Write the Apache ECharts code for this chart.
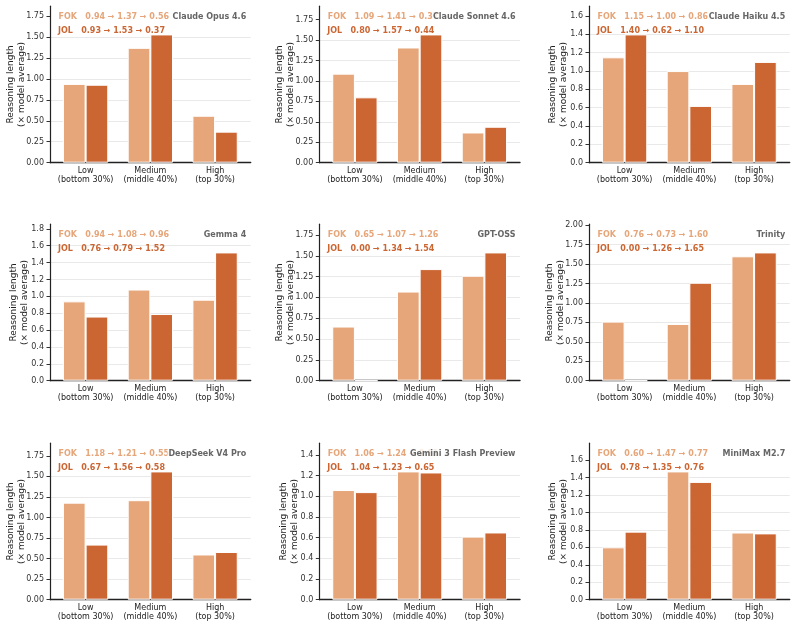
<!DOCTYPE html>
<html>
<head>
<meta charset="utf-8">
<script src="https://cdn.jsdelivr.net/npm/echarts@6/dist/echarts.min.js"></script>
<style>
html,body{margin:0;padding:0;background:#fff;}
#chart{width:796px;height:627px;}
</style>
</head>
<body>
<div id="chart"></div>
<script>
// ---- data ----
const categories = ['Low\n(bottom 30%)', 'Medium\n(middle 40%)', 'High\n(top 30%)'];
const models = ['Claude Opus 4.6', 'Claude Sonnet 4.6', 'Claude Haiku 4.5',
                'Gemma 4', 'GPT-OSS', 'Trinity',
                'DeepSeek V4 Pro', 'Gemini 3 Flash Preview', 'MiniMax M2.7'];
const fokValues = [
  [0.94, 1.37, 0.56],
  [1.09, 1.41, 0.37],
  [1.15, 1.00, 0.86],
  [0.94, 1.08, 0.96],
  [0.65, 1.07, 1.26],
  [0.76, 0.73, 1.60],
  [1.18, 1.21, 0.55],
  [1.06, 1.24, 0.61],
  [0.60, 1.47, 0.77]
];
const jolValues = [
  [0.93, 1.53, 0.37],
  [0.80, 1.57, 0.44],
  [1.40, 0.62, 1.10],
  [0.76, 0.79, 1.52],
  [0.00, 1.34, 1.54],
  [0.00, 1.26, 1.65],
  [0.67, 1.56, 0.58],
  [1.04, 1.23, 0.65],
  [0.78, 1.35, 0.76]
];
// y tick labels per panel
const ticks175 = [0, 0.25, 0.5, 0.75, 1.0, 1.25, 1.5, 1.75];
const ticks200 = [0, 0.25, 0.5, 0.75, 1.0, 1.25, 1.5, 1.75, 2.0];
const ticks16 = [0, 0.2, 0.4, 0.6, 0.8, 1.0, 1.2, 1.4, 1.6];
const ticks18 = [0, 0.2, 0.4, 0.6, 0.8, 1.0, 1.2, 1.4, 1.6, 1.8];
const ticks14 = [0, 0.2, 0.4, 0.6, 0.8, 1.0, 1.2, 1.4];
const yTicks = [ticks175, ticks175, ticks16, ticks18, ticks175, ticks200, ticks175, ticks14, ticks16];

// ---- style ----
const FOK_COLOR = '#E6A67A';
const JOL_COLOR = '#CB6633';
const FONT = '"DejaVu Sans", sans-serif';
const colLeft = [50, 319.3, 589];
const rowBottom = [162.7, 380.7, 599.7];
const plotW = 200.7, plotH = 156.5;

const chart = echarts.init(document.getElementById('chart'), null, {renderer: 'canvas'});
const grid = [], xAxis = [], yAxis = [], series = [], graphic = [];

models.forEach((name, i) => {
  const col = i % 3, row = Math.floor(i / 3);
  const left = colLeft[col], top = rowBottom[row] - plotH;
  const ticks = yTicks[i];
  const step = ticks[1] - ticks[0];
  const dec = step === 0.25 ? 2 : 1;
  const ymax = Math.max(...fokValues[i], ...jolValues[i]) * 1.22;
  const labelChars = ticks[ticks.length - 1].toFixed(dec).length;
  grid.push({left: left, top: top, width: plotW, height: plotH, containLabel: false});
  xAxis.push({
    type: 'value', gridIndex: i, min: -0.55, max: 2.55, position: 'bottom',
    axisLine: {show: true, onZero: false, lineStyle: {color: '#222', width: 1.4}},
    axisTick: {show: false},
    splitLine: {show: false},
    axisLabel: {
      customValues: [0, 1, 2],
      formatter: v => categories[Math.round(v)],
      fontFamily: FONT, fontSize: 8, color: '#222', lineHeight: 9.5, margin: 3
    }
  });
  yAxis.push({
    type: 'value', gridIndex: i, min: 0, max: ymax, interval: step, position: 'left',
    name: 'Reasoning length\n(× model average)',
    nameLocation: 'middle', nameRotate: 90, nameMoveOverlap: false,
    nameGap: labelChars >= 4 ? 23 : 19.5,
    nameTextStyle: {fontFamily: FONT, fontSize: 9, color: '#222', lineHeight: 11},
    axisLine: {show: true, onZero: false, lineStyle: {color: '#222', width: 1.2}},
    axisTick: {show: true, inside: false, length: 3.5, customValues: ticks, lineStyle: {color: '#333', width: 1}},
    splitLine: {show: true, showMaxLine: false, showMinLine: false, lineStyle: {color: '#e9e9e9', width: 1}},
    axisLabel: {
      customValues: ticks,
      formatter: v => v.toFixed(dec),
      fontFamily: FONT, fontSize: 8, color: '#333', margin: 6
    }
  });
  series.push({
    type: 'bar', name: 'FOK', xAxisIndex: i, yAxisIndex: i,
    data: fokValues[i].map((v, k) => [k, v]),
    barWidth: '35%', barGap: '0%',
    itemStyle: {color: FOK_COLOR, borderColor: '#fff', borderWidth: 1},
    emphasis: {disabled: true}, animation: false
  });
  series.push({
    type: 'bar', name: 'JOL', xAxisIndex: i, yAxisIndex: i,
    data: jolValues[i].map((v, k) => [k, v]),
    barWidth: '35%', barGap: '0%',
    itemStyle: {color: JOL_COLOR, borderColor: '#fff', borderWidth: 1},
    emphasis: {disabled: true}, animation: false
  });
  const fmt = arr => arr.map(v => v.toFixed(2)).join(' → ');
  graphic.push({
    type: 'text', z: 100, x: left + 8.5, y: top + 10.5,
    style: {text: 'FOK   ' + fmt(fokValues[i]), fill: FOK_COLOR,
            fontFamily: FONT, fontSize: 8, fontWeight: 'bold', verticalAlign: 'middle', align: 'left'}
  });
  graphic.push({
    type: 'text', z: 100, x: left + 8, y: top + 24.5,
    style: {text: 'JOL   ' + fmt(jolValues[i]), fill: JOL_COLOR,
            fontFamily: FONT, fontSize: 8, fontWeight: 'bold', verticalAlign: 'middle', align: 'left'}
  });
  graphic.push({
    type: 'text', z: 101, x: left + plotW - 3.5, y: top + 10.5,
    style: {text: name, fill: '#666', fontFamily: FONT, fontSize: 8, fontWeight: 'bold',
            verticalAlign: 'middle', align: 'right',
            backgroundColor: 'rgba(255,255,255,0.75)', padding: [1, 1, 1, 1]}
  });
});

chart.setOption({
  animation: false,
  backgroundColor: '#fff',
  grid: grid, xAxis: xAxis, yAxis: yAxis, series: series, graphic: graphic
});
</script>
</body>
</html>
